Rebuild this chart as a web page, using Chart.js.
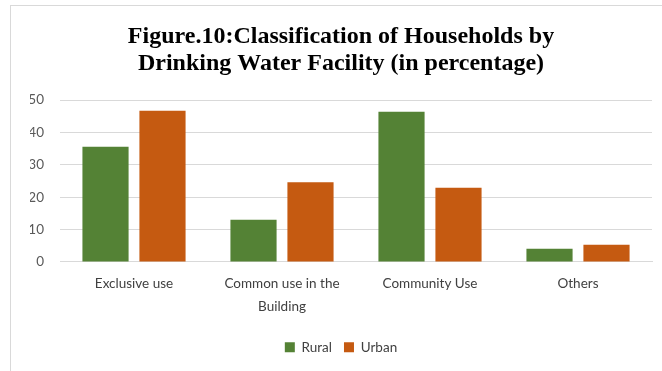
<!DOCTYPE html>
<html>
<head>
<meta charset="utf-8">
<script src="https://cdn.jsdelivr.net/npm/chart.js@4/dist/chart.umd.min.js"></script>
<style>
    html, body { margin: 0; padding: 0; background: #fff; overflow: hidden; }
    #frame {
        position: absolute;
        left: 10px;
        top: 5px;
        width: 662px;
        height: 380px;
        border: 1px solid #d9d9d9;
        box-sizing: border-box;
    }
    #waterChart { display: block; }
</style>
</head>
<body>
<div id="frame"><canvas id="waterChart" width="660" height="374"></canvas></div>
<script>
// Drinking water facility, share of households (%)
const categories = ['Exclusive use', ['Common use in the', 'Building'], 'Community Use', 'Others'];
const ruralValues = [35.6, 13.0, 46.4, 4.1];
const urbanValues = [46.7, 24.6, 22.9, 5.3];
const yTicks = [0, 10, 20, 30, 40, 50];

const labelFont = { family: 'Lato', size: 13.5, lineHeight: 1.65 };

new Chart(document.getElementById('waterChart'), {
    type: 'bar',
    data: {
        labels: categories,
        datasets: [
            {
                label: 'Rural',
                data: ruralValues,
                backgroundColor: '#548235'
            },
            {
                label: 'Urban',
                data: urbanValues,
                backgroundColor: '#C55A11'
            }
        ]
    },
    options: {
        responsive: false,
        animation: false,
        categoryPercentage: 0.77,
        barPercentage: 0.81,
        // equal side padding keeps the title centred on the frame
        layout: { padding: { left: 19, right: 19, top: 0, bottom: 16 } },
        plugins: {
            title: {
                display: true,
                text: ['Figure.10:Classification of Households by', 'Drinking Water Facility (in percentage)'],
                color: '#000',
                font: { family: 'Liberation Serif', size: 24, weight: 'bold', lineHeight: 1.125 },
                padding: { top: 17, bottom: 23 }
            },
            legend: {
                position: 'bottom',
                labels: {
                    color: '#404040',
                    font: { family: 'Lato', size: 13.5 },
                    boxWidth: 10,
                    boxHeight: 10,
                    padding: 12
                }
            },
            tooltip: { enabled: false }
        },
        scales: {
            x: {
                grid: { display: false, drawTicks: false },
                border: { color: '#d9d9d9' },
                ticks: { color: '#404040', font: labelFont, maxRotation: 0, padding: 11 }
            },
            y: {
                min: 0,
                max: 50,
                afterBuildTicks: scale => {
                    scale.ticks = yTicks.map(v => ({ value: v }));
                },
                afterFit: scale => {
                    scale.width = 30;
                },
                grid: { color: '#d9d9d9', drawTicks: false },
                border: { display: false },
                ticks: { color: '#595959', font: { family: 'Lato', size: 13.5 }, padding: 16 }
            }
        }
    }
});
</script>
</body>
</html>
